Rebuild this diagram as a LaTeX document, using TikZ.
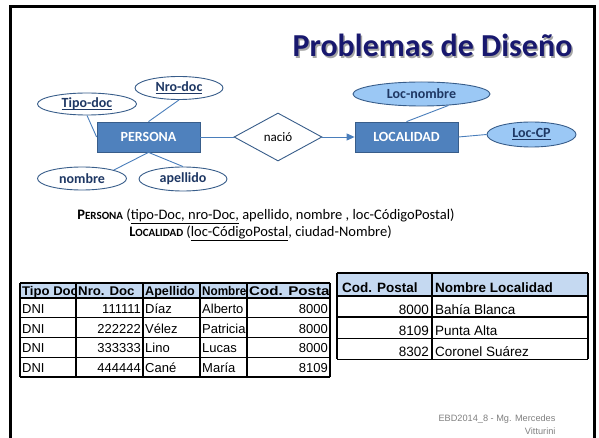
\documentclass[tikz,border=0pt]{standalone}
\usepackage{fontspec}
\setmainfont{Carlito}
\newfontfamily\arial{Liberation Sans}
\usetikzlibrary{shapes.geometric,arrows.meta,positioning}

\definecolor{entfill}{RGB}{79,129,189}
\definecolor{entdraw}{RGB}{56,93,138}
\definecolor{linkblue}{RGB}{74,126,187}
\definecolor{attrtext}{RGB}{31,56,100}
\definecolor{attrfill}{RGB}{155,200,245}
\definecolor{titleblue}{RGB}{24,24,110}
\definecolor{headfill}{RGB}{197,217,241}

\newsavebox\keybox
\newcommand{\keytext}[1]{\sbox\keybox{#1}\rlap{\rule[-2.8pt]{\wd\keybox}{1.1pt}}\usebox\keybox}

\tikzset{
  entity/.style={draw=entdraw, fill=entfill, line width=0.8pt, minimum width=103pt,
    minimum height=30pt, text=white, font=\fontsize{14}{16}\selectfont\bfseries},
  attr/.style={ellipse, draw=entdraw, fill=white, line width=0.9pt, inner sep=0pt,
    text=attrtext, font=\fontsize{14}{16}\selectfont\bfseries},
  locattr/.style={attr, fill=attrfill},
  rel/.style={diamond, draw=entdraw, fill=white, line width=0.9pt, inner sep=0pt,
    minimum width=88pt, minimum height=48pt, font=\fontsize{13}{15}\selectfont},
  link/.style={draw=linkblue, line width=0.9pt},
  tabline/.style={line width=1.3pt},
  cella/.style={inner sep=0pt, font=\arial\fontsize{13}{15}\selectfont},
  cellb/.style={inner sep=0pt, font=\arial\fontsize{13.5}{15}\selectfont},
}

\begin{document}
\begin{tikzpicture}[x=1pt,y=-1pt]
\useasboundingbox (0,0) rectangle (599,438);
% Frame
\draw[line width=3.5pt] (10.5,445) -- (10.5,6.5) -- (594.5,6.5) -- (594.5,445);
% Title
\node[anchor=base, text=black!35, font=\fontsize{32}{36}\selectfont\bfseries] (titleshadow) at (434,58.5) {Problemas de Diseño};
\node[anchor=base, text=titleblue, font=\fontsize{32}{36}\selectfont\bfseries] (title) at (432.5,57) {Problemas de Diseño};
% Entities and relationship
\node[entity] (persona) at (148.5,137) {PERSONA};
\node[entity] (localidad) at (406.5,137) {LOCALIDAD};
\node[rel] (nacio) at (278,137) {nació};
% Attributes
\node[attr, minimum width=99pt, minimum height=22pt] (tipodoc) at (87,104) {\keytext{Tipo-doc}};
\node[attr, minimum width=88pt, minimum height=23pt] (nrodoc) at (179,88) {\keytext{Nro-doc}};
\node[attr, minimum width=89pt, minimum height=23pt] (nombre) at (82,178.5) {nombre};
\node[attr, minimum width=88pt, minimum height=24pt] (apellido) at (183,179) {apellido};
\node[locattr, minimum width=137pt, minimum height=24pt] (locnombre) at (421.5,94) {Loc-nombre};
\node[locattr, minimum width=89pt, minimum height=25pt] (loccp) at (531.5,134.5) {\keytext{Loc-CP}};
% Connections
\draw[link] (tipodoc.south) -- (persona.west);
\draw[link] (nrodoc.south) -- (persona.north);
\draw[link] (nombre.north east) -- (persona.south);
\draw[link] (apellido.north) -- (persona.south);
\draw[link] (persona.east) -- (nacio.west);
\draw[link, -{Triangle[length=8pt,width=7pt]}] (nacio.east) -- (localidad.west);
\draw[link] (locnombre.-23) -- (localidad.north);
\draw[link] (localidad.east) -- (loccp.west);
% Relational schema
\node[font=\fontsize{14.5}{17}\selectfont] (schemap) at (266,216)
  {\textbf{P\fontsize{11}{12}\selectfont ERSONA} (\underline{tipo-Doc, nro-Doc,} apellido, nombre , loc-CódigoPostal)};
\node[font=\fontsize{14.5}{17}\selectfont] (schemal) at (260.5,233)
  {\textbf{L\fontsize{11}{12}\selectfont OCALIDAD} (\underline{loc-CódigoPostal}, ciudad-Nombre)};
% Table PERSONA
\fill[headfill] (20,283) rectangle (330,298);
\foreach \xa/\xb/\fx/\head [count=\j] in {20/76/1.04/Tipo Doc, 76/143/1.05/Nro. Doc, 143/200/1.0/Apellido,
    200/247/0.93/Nombre, 247/330/1.2/Cod. Postal}{
  \begin{scope}
    \clip (\xa,283) rectangle (\xb,298);
    \node[cella, anchor=base west, font=\arial\fontsize{12.6}{15}\selectfont\bfseries\addfontfeatures{FakeStretch=\fx}] (ph-\j) at (\xa+2,295) {\head};
  \end{scope}
}
\foreach \dni/\nro/\ape/\nom/\cp [count=\i] in {DNI/111111/Díaz/Alberto/8000, DNI/222222/Vélez/Patricia/8000,
    DNI/333333/Lino/Lucas/8000, DNI/444444/Cané/María/8109}{
  \pgfmathsetmacro\yb{298+19.75*\i-4.5}
  \node[cella, anchor=base west] (p-\i-1) at (22,\yb) {\dni};
  \node[cella, anchor=base east] (p-\i-2) at (141,\yb) {\nro};
  \node[cella, anchor=base west] (p-\i-3) at (145,\yb) {\ape};
  \node[cella, anchor=base west] (p-\i-4) at (202,\yb) {\nom};
  \node[cella, anchor=base east] (p-\i-5) at (328,\yb) {\cp};
}
\foreach \y in {283,298,317.75,337.5,357.25,377} \draw[tabline] (20,\y) -- (330,\y);
\foreach \x in {20,76,143,200,247,330} \draw[tabline] (\x,283) -- (\x,377);
% Table LOCALIDAD
\fill[headfill] (337,273) rectangle (588,296);
\node[cellb, anchor=base west, font=\arial\fontsize{13.5}{15}\selectfont\bfseries] (lh-1) at (342,292) {Cod. Postal};
\node[cellb, anchor=base west, font=\arial\fontsize{13.5}{15}\selectfont\bfseries] (lh-2) at (435,292) {Nombre Localidad};
\foreach \cp/\loc [count=\i] in {8000/Bahía Blanca, 8109/Punta Alta, 8302/Coronel Suárez}{
  \pgfmathsetmacro\yb{296+21.1*\i-2.5}
  \node[cellb, anchor=base east] (l-\i-1) at (429,\yb) {\cp};
  \node[cellb, anchor=base west] (l-\i-2) at (435,\yb) {\loc};
}
\foreach \y in {273,296,317.1,338.2,359.3} \draw[tabline] (337,\y) -- (588,\y);
\foreach \x in {337,432,588} \draw[tabline] (\x,273) -- (\x,359.3);
% Footer
\node[anchor=east, align=right, text=black!50, font=\arial\fontsize{9.2}{13}\selectfont] (footer) at (559,425)
  {EBD2014\_8 - Mg. Mercedes\\Vitturini};
\end{tikzpicture}
\end{document}
